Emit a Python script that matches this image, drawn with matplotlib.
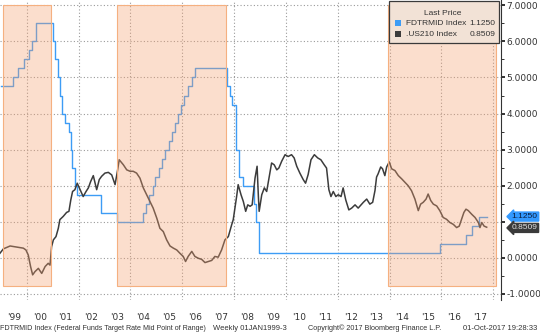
import numpy as np
import matplotlib
matplotlib.use("Agg")
import matplotlib.pyplot as plt
import matplotlib.transforms as mtransforms
from matplotlib.patches import Rectangle
from matplotlib.ticker import FuncFormatter

# FDTRMID: target rate mid point, change dates as decimal years
FED_YEARS = [
    1999.00, 1999.49, 1999.65, 1999.88, 2000.09, 2000.22, 2000.37,
    2001.01, 2001.08, 2001.21, 2001.30, 2001.37, 2001.49, 2001.64,
    2001.71, 2001.75, 2001.85, 2001.94, 2002.85, 2003.48,
    2004.49, 2004.61, 2004.72, 2004.86, 2004.95, 2005.09, 2005.22,
    2005.33, 2005.49, 2005.60, 2005.72, 2005.83, 2005.95, 2006.08,
    2006.24, 2006.36, 2006.49,
    2007.71, 2007.83, 2007.94, 2008.06, 2008.08, 2008.21, 2008.33,
    2008.77, 2008.83, 2008.96,
    2015.96, 2016.95, 2017.20, 2017.45, 2017.75,
]
FED_RATES = [
    4.75, 5.00, 5.25, 5.50, 5.75, 6.00, 6.50,
    6.00, 5.50, 5.00, 4.50, 4.00, 3.75, 3.50,
    3.00, 2.50, 2.00, 1.75, 1.25, 1.00,
    1.25, 1.50, 1.75, 2.00, 2.25, 2.50, 2.75,
    3.00, 3.25, 3.50, 3.75, 4.00, 4.25, 4.50,
    4.75, 5.00, 5.25,
    4.75, 4.50, 4.25, 3.50, 3.00, 2.25, 2.00,
    1.50, 1.00, 0.125,
    0.375, 0.625, 0.875, 1.125, 1.125,
]

# .US210: 2y/10y spread
SPREAD_YEARS = [
    1998.97, 1999.10, 1999.36, 1999.61, 1999.87, 1999.97, 2000.06, 2000.15,
    2000.23, 2000.32, 2000.45, 2000.58, 2000.71, 2000.83, 2000.90, 2000.96,
    2001.03, 2001.13, 2001.22, 2001.28, 2001.41, 2001.54, 2001.63, 2001.70,
    2001.77, 2001.86, 2001.95, 2002.06, 2002.18, 2002.29, 2002.38, 2002.47,
    2002.57, 2002.70, 2002.80, 2002.89, 2003.02, 2003.15, 2003.28, 2003.41,
    2003.50, 2003.57, 2003.73, 2003.86, 2003.99, 2004.11, 2004.24, 2004.37,
    2004.50, 2004.63, 2004.76, 2004.88, 2005.02, 2005.14, 2005.27, 2005.40,
    2005.53, 2005.66, 2005.79, 2005.91, 2006.04, 2006.13, 2006.23, 2006.37,
    2006.49, 2006.62, 2006.75, 2006.88, 2007.01, 2007.14, 2007.26, 2007.39,
    2007.52, 2007.65, 2007.78, 2007.91, 2007.97, 2008.10, 2008.16, 2008.27,
    2008.36, 2008.45, 2008.53, 2008.62, 2008.70, 2008.81, 2008.89, 2008.94,
    2008.97, 2009.07, 2009.17, 2009.26, 2009.36, 2009.45, 2009.55, 2009.65,
    2009.73, 2009.84, 2009.97, 2010.09, 2010.22, 2010.32, 2010.42, 2010.54,
    2010.67, 2010.76, 2010.86, 2010.97, 2011.10, 2011.23, 2011.35, 2011.48,
    2011.57, 2011.66, 2011.74, 2011.83, 2011.93, 2012.02, 2012.13, 2012.21,
    2012.31, 2012.43, 2012.54, 2012.67, 2012.79, 2012.99, 2013.12, 2013.24,
    2013.35, 2013.44, 2013.50, 2013.56, 2013.66, 2013.73, 2013.82, 2013.89,
    2013.99, 2014.08, 2014.21, 2014.34, 2014.47, 2014.59, 2014.72, 2014.85,
    2014.98, 2015.11, 2015.20, 2015.30, 2015.41, 2015.49, 2015.59, 2015.69,
    2015.82, 2015.94, 2016.07, 2016.20, 2016.33, 2016.46, 2016.59, 2016.69,
    2016.78, 2016.87, 2016.95, 2017.04, 2017.17, 2017.30, 2017.43, 2017.49,
    2017.56, 2017.65, 2017.75,
]
SPREAD_VALUES = [
    0.13, 0.25, 0.33, 0.30, 0.27, 0.22, 0.08, -0.24,
    -0.47, -0.38, -0.29, -0.43, -0.24, -0.15, -0.20, 0.31,
    0.50, 0.59, 0.82, 1.06, 1.15, 1.26, 1.29, 1.60,
    1.84, 1.89, 2.07, 1.89, 1.70, 1.84, 1.94, 2.12,
    2.28, 1.89, 2.17, 2.26, 2.35, 2.37, 2.30, 2.03,
    2.40, 2.72, 2.58, 2.44, 2.40, 2.40, 2.35, 2.21,
    1.94, 1.75, 1.56, 1.38, 1.10, 0.82, 0.73, 0.50,
    0.33, 0.27, 0.22, 0.13, 0.04, -0.10, 0.04, 0.18,
    0.04, -0.01, -0.04, -0.13, -0.10, -0.07, 0.04, 0.02,
    0.22, 0.50, 0.59, 0.92, 1.06, 1.70, 2.03, 1.75,
    1.56, 1.29, 1.47, 1.43, 1.47, 2.21, 2.54, 1.70,
    1.29, 1.75, 1.94, 1.84, 2.26, 2.63, 2.58, 2.44,
    2.49, 2.68, 2.86, 2.81, 2.86, 2.77, 2.54, 2.35,
    2.17, 2.07, 2.31, 2.72, 2.86, 2.77, 2.72, 2.58,
    2.49, 1.89, 1.70, 1.84, 1.70, 1.75, 1.70, 1.94,
    1.61, 1.33, 1.38, 1.47, 1.38, 1.54, 1.63, 1.49,
    1.54, 1.87, 2.24, 2.33, 2.52, 2.47, 2.28, 2.52,
    2.66, 2.47, 2.42, 2.28, 2.19, 2.10, 2.00, 1.86,
    1.63, 1.31, 1.49, 1.54, 1.63, 1.77, 1.59, 1.49,
    1.44, 1.31, 1.12, 1.07, 0.98, 0.93, 0.84, 0.88,
    1.07, 1.26, 1.35, 1.31, 1.21, 1.12, 0.98, 0.84,
    0.98, 0.88, 0.85,
]

SHADE_STARTS = [1999.10, 2003.50, 2013.95]
SHADE_ENDS = [2000.93, 2007.68, 2018.12]
SHADE_BOTTOM = -0.77
SHADE_TOP = 7.0

LABEL_YEARS = list(range(1999, 2018))
YEAR_LABELS = ["'99", "'00", "'01", "'02", "'03", "'04", "'05", "'06", "'07",
               "'08", "'09", "'10", "'11", "'12", "'13", "'14", "'15", "'16",
               "'17"]

LAST_FED = 1.1250
LAST_SPREAD = 0.8509

BLUE = "#3d9cf5"
DARK = "#3c3c3c"
TEXT = "#333333"
SANS = ["Liberation Sans", "DejaVu Sans"]

fig = plt.figure(figsize=(5.4, 3.34), dpi=100)
ax = fig.add_axes([0, 34 / 334, 500.7 / 540, 300 / 334])

ax.set_xlim(1998.97, 2018.29)
ax.set_ylim(-1.167, 7.147)

ax.plot(FED_YEARS, FED_RATES, drawstyle="steps-post", color=BLUE,
        linewidth=1.0, zorder=2)
ax.plot(SPREAD_YEARS, SPREAD_VALUES, color=DARK, linewidth=1.1, zorder=2)

for x0, x1 in zip(SHADE_STARTS, SHADE_ENDS):
    ax.add_patch(Rectangle(
        (x0, SHADE_BOTTOM), x1 - x0, SHADE_TOP - SHADE_BOTTOM,
        facecolor=(246 / 255, 161 / 255, 112 / 255, 0.35),
        edgecolor="#f5b080", linewidth=0.8, zorder=3
    ))

# axes / ticks
for side in ["top", "left", "bottom"]:
    ax.spines[side].set_visible(False)
ax.spines["right"].set_color(TEXT)
ax.spines["right"].set_linewidth(0.8)


def y_fmt(v, pos):
    # the 1.0000 label sits behind the last-price tags
    if abs(v - 1.0) < 1e-9:
        return ""
    return f"{v:.4f}"


ax.yaxis.tick_right()
ax.set_yticks(np.arange(-1, 8, 1))
ax.set_yticks(np.arange(-0.5, 7, 1), minor=True)
ax.yaxis.set_major_formatter(FuncFormatter(y_fmt))
ax.tick_params(axis="y", which="major", length=3, width=1.4, color=TEXT,
               labelsize=6.5, labelcolor=TEXT, pad=1)
ax.tick_params(axis="y", which="minor", length=2, width=0.7, color=TEXT)

ax.set_xticks(np.arange(2000, 2019, 2))
ax.set_xticklabels([])
ax.set_xticks([y + 0.5 for y in LABEL_YEARS], minor=True)
ax.set_xticklabels(YEAR_LABELS, minor=True)
ax.tick_params(axis="x", which="both", length=0)
ax.tick_params(axis="x", which="minor", labelsize=6.5, labelcolor=TEXT,
               pad=9)

ax.grid(True, which="major", linestyle=(0, (1, 2)), color="#9a9a9a",
        linewidth=0.8, zorder=0)
ax.set_axisbelow(True)

# legend box
ax.add_patch(Rectangle((0.777, 0.857), 0.22, 0.14, transform=ax.transAxes,
                       facecolor="#f2e2d6", edgecolor="#3a3a3a",
                       linewidth=0.9, zorder=6))
leg = dict(transform=ax.transAxes, va="center", fontsize=6, color=TEXT,
           family=SANS, zorder=7)
ax.text(0.885, 0.955, "Last Price", ha="center", **leg)
ax.add_patch(Rectangle((0.789, 0.913), 0.012, 0.02, transform=ax.transAxes,
                       facecolor=BLUE, edgecolor="none", zorder=7))
ax.add_patch(Rectangle((0.789, 0.877), 0.012, 0.02, transform=ax.transAxes,
                       facecolor=DARK, edgecolor="none", zorder=7))
ax.text(0.811, 0.922, "FDTRMID Index", ha="left", **leg)
ax.text(0.989, 0.922, f"{LAST_FED:.4f}", ha="right", **leg)
ax.text(0.811, 0.885, ".US210 Index", ha="left", **leg)
ax.text(0.989, 0.885, f"{LAST_SPREAD:.4f}", ha="right", **leg)

# last value tags on the right axis
trans = mtransforms.blended_transform_factory(ax.transAxes, ax.transData)
ax.text(1.022, LAST_FED + 0.02, f"{LAST_FED:.4f}", transform=trans,
        ha="left", va="center", fontsize=6, family=SANS, color="#0b1b3a",
        clip_on=False, zorder=7,
        bbox=dict(boxstyle="larrow,pad=0.12", fc="#3399ff", ec="#3399ff"))
ax.text(1.022, LAST_SPREAD - 0.02, f"{LAST_SPREAD:.4f}", transform=trans,
        ha="left", va="center", fontsize=6, family=SANS, color="#e0e0e0",
        clip_on=False, zorder=7,
        bbox=dict(boxstyle="larrow,pad=0.12", fc="#3a3a3a", ec="#3a3a3a"))

# footer, each piece squeezed to the width it takes in the reference
FOOTER = [
    ("FDTRMID Index (Federal Funds Target Rate Mid Point of Range)", 0, 207),
    ("Weekly 01JAN1999-3", 213, 287),
    ("Copyright\u00a9 2017 Bloomberg Finance L.P.", 308, 443),
    ("01-Oct-2017 19:28:33", 463, 538),
]
renderer = fig.canvas.get_renderer()
for text, x0, x1 in FOOTER:
    t = fig.text(x0 / 540, 1 - 328 / 334, text, ha="left", va="center",
                 fontsize=6, color=TEXT, family=SANS)
    w = t.get_window_extent(renderer).width
    t.set_fontsize(min(6.5, 6 * (x1 - x0) / w))

fig.savefig("out.png", dpi=100)
